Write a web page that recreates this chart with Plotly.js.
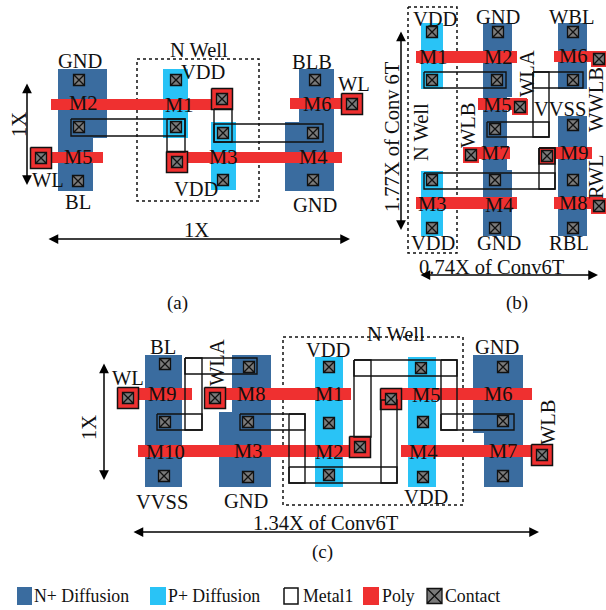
<!DOCTYPE html>
<html><head><meta charset="utf-8">
<script src="https://cdn.plot.ly/plotly-3.0.1.min.js"></script>
<style>html,body{margin:0;padding:0;background:#fff}#c{width:606px;height:610px}</style>
</head><body><div id="c"></div>
<script>
// All rects are [x0, y0, x1, y1] in picture units
const nDiffusion = [
 [58,69,107,138],[58,138,93,191],[299,69,334,122],[285,122,334,191],
 [483,23,512,97],[483,97,507,170],[483,170,512,236],[558,23,587,89],[558,116,587,236],
 [145,355,182,487],[232,355,271,412],[219,412,271,487],[473,355,523,433],[484,433,523,487]
];
const pDiffusion = [
 [163,69,188,138],[211,122,236,190],
 [421,23,443,89],[421,171,443,236],
 [315,357,343,487],[408,357,436,487]
];
const polyBars = [
 [51,99,213,110],[168,152,342,163],[40,152,103,163],[290,98,350,109],
 [416,51,517,63],[554,51,603,62],[478,98,527,110],[463,147,510,159],[540,147,592,159],[416,197,517,209],[554,197,603,209],
 [128,388,192,400],[215,388,351,400],[138,445,360,457],[390,388,532,400],[401,445,542,457]
];
const polyPadsBordered = [[222,99],[177,162],[41,158],[352,104],[128,398],[215,398],[360,447],[391,399],[542,455]];
const polyPadsSmallBordered = [[547,156]];
const polyPadsPlain = [[599,59],[520,107],[471,155],[599,206]];
const metal1 = [
 [71,119,185,136],[167,119,185,152],[214,109,232,142],[214,124,323,142],
 [424,72,506,88],[533,72,583,88],[533,72,549,137],[487,122,549,137],[424,173,555,189],[539,148,555,189],
 [185,358,257,374],[185,358,202,430],[157,414,202,430],[240,414,305,430],[289,414,305,483],[289,467,397,483],
 [381,400,397,483],[354,360,371,437],[354,360,457,376],[441,360,457,430],[441,414,514,430]
];
const nWells = [[137,59,259,201],[408,7,457,253],[283,337,463,505]];
const contacts = [
 [79,80],[79,127],[78,181],[176,80],[176,127],[222,99],[223,133],[177,162],[223,180],[315,80],[313,133],[313,180],[41,158],[352,104],
 [432,32],[498,32],[573,32],[599,59],[432,80],[497,80],[573,80],[520,107],[495,129],[573,125],[471,155],[547,156],[432,180],[495,180],[573,180],[599,206],[432,228],[495,228],[573,228],
 [165,364],[249,367],[128,398],[215,398],[165,422],[248,422],[164,476],[248,477],[329,367],[329,423],[329,475],[421,368],[423,422],[423,477],[503,367],[503,421],[503,476],[360,447],[391,399],[542,455]
];
// [text, x, y, angle]
const labels = [
 ["GND",80,61,0],["N Well",199,50,0],["VDD",203,72,0],["BLB",312,62,0],["WL",354,84,0],["M2",83,103,0],["M1",179,105,0],["M6",317,104,0],
 ["M5",78,157,0],["M3",223,157,0],["M4",313,157,0],["WL",48,180,0],["BL",78,202,0],["VDD",196,189,0],["GND",315,205,0],["1X",196,230,0],["1X",19,125,-90],
 ["VDD",435,19,0],["GND",498,17,0],["WBL",572,17,0],["M1",433,57,0],["M2",498,57,0],["M6",573,56,0],["WLA",527,74,-90],["M5",497,105,0],["VVSS",560,109,0],
 ["WWLB",596,100,-90],["RWL",596,177,-90],["WLB",468,125,-90],["N Well",421,132,-90],["1.77X of Conv 6T",392,137,-90],["M7",495,153,0],["M9",574,153,0],
 ["M3",432,204,0],["M4",499,205,0],["M8",573,203,0],["VDD",433,243,0],["GND",499,243,0],["RBL",569,243,0],["0.74X of Conv6T",492,267,0],
 ["BL",163,347,0],["WLA",217,363,-90],["VDD",328,350,0],["N Well",396,334,0],["GND",497,347,0],["WL",128,378,0],["M9",162,394,0],["M8",251,394,0],["M1",329,394,0],
 ["M5",426,395,0],["M6",498,394,0],["WLB",548,422,-90],["M10",165,452,0],["M3",248,451,0],["M2",329,452,0],["M4",423,452,0],["M7",503,451,0],
 ["VVSS",162,502,0],["GND",246,501,0],["VDD",426,497,0],["1.34X of Conv6T",326,523,0],["1X",89,428,-90]
];
const panelNames = [["(a)",177,303],["(b)",517,303],["(c)",322,552]];
// [x0, y0, x1, y1]
const arrows = [[27,82,27,185],[47,239,350,239],[401,30,401,230],[419,275,598,275],[104,362,104,480],[132,532,539,532]];
// Legend
const legendNames = ["N+ Diffusion","P+ Diffusion","Metal1","Poly","Contact"];
const legendTextX = [33,167,302,381,444];
const legendSwatchN = [[17,587,32,605]];
const legendSwatchP = [[150,587,166,605]];
const legendSwatchM = [[284,588,298,604]];
const legendSwatchPoly = [[363,587,379,605]];
const legendContact = [[434.5,596]];

const BLUE="#3a6c9f", CYAN="#29c3f6", RED="#ef3030", BLACK="#111";
const PAD=10.5, PAD2=8;
const serif="Liberation Serif, serif";
const FONT={family:serif,size:20.5,color:"#111"};
const FONT2={family:serif,size:19,color:"#111"};
const FONT3={family:serif,size:17.8,color:"#111"};

function path(rects){
  const x=[],y=[];
  rects.forEach(r=>{x.push(r[0],r[2],r[2],r[0],r[0],null);y.push(r[1],r[1],r[3],r[3],r[1],null);});
  return {x,y};
}
function padRects(c,h){return c.map(p=>[p[0]-h,p[1]-h,p[0]+h,p[1]+h]);}
function fillTrace(rects,color,name){
  return Object.assign(path(rects),{type:"scatter",mode:"lines",name,fill:"toself",fillcolor:color,line:{width:0,color},hoverinfo:"skip",connectgaps:false});
}
function outline(rects,width,dash,name,fill){
  return Object.assign(path(rects),{type:"scatter",mode:"lines",name,line:{width,color:BLACK,dash:dash||"solid"},hoverinfo:"skip",
    fill:fill?"toself":"none",fillcolor:fill||"rgba(0,0,0,0)"});
}
function contactTrace(pts,name,size){
  return {type:"scatter",mode:"markers",name,x:pts.map(p=>p[0]),y:pts.map(p=>p[1]),hoverinfo:"skip",
    marker:{symbol:"square-x",size,color:"#7a7a7a",line:{color:"#111",width:1.3}}};
}
const traces=[
  fillTrace(nDiffusion,BLUE,"N+ Diffusion"),
  fillTrace(pDiffusion,CYAN,"P+ Diffusion"),
  outline(nWells,1.5,"dot","N Well"),
  fillTrace(polyBars,RED,"Poly"),
  fillTrace(padRects(polyPadsPlain,PAD2),RED,"Poly pads"),
  outline(padRects(polyPadsBordered,PAD),1.5,"solid","Poly pads bordered",RED),
  outline(padRects(polyPadsSmallBordered,PAD2),1.5,"solid","Poly pads small bordered",RED),
  outline(metal1,1.4,"solid","Metal1"),
  contactTrace(contacts,"Contact",11),
  fillTrace(legendSwatchN,BLUE,"legend N"),
  fillTrace(legendSwatchP,CYAN,"legend P"),
  outline(legendSwatchM,1.5,"solid","legend M"),
  fillTrace(legendSwatchPoly,RED,"legend Poly"),
  contactTrace(legendContact,"legend Contact",15)
];
const annotations=[];
labels.forEach(l=>annotations.push({x:l[1],y:l[2],xref:"x",yref:"y",text:l[0],textangle:l[3],showarrow:false,font:FONT,xanchor:"center",yanchor:"middle",borderpad:0}));
panelNames.forEach(l=>annotations.push({x:l[1],y:l[2],xref:"x",yref:"y",text:l[0],showarrow:false,font:FONT2,xanchor:"center",yanchor:"middle",borderpad:0}));
legendNames.forEach((n,i)=>annotations.push({x:legendTextX[i],y:596,xref:"x",yref:"y",text:n,showarrow:false,font:FONT3,xanchor:"left",yanchor:"middle",borderpad:0}));
arrows.forEach(a=>annotations.push({x:a[2],y:a[3],ax:a[0],ay:a[1],xref:"x",yref:"y",axref:"x",ayref:"y",text:"",showarrow:true,arrowhead:2,arrowside:"end+start",arrowsize:1.3,arrowwidth:1.5,arrowcolor:"#000",standoff:0,startstandoff:0}));

Plotly.newPlot("c",traces,{
  width:606,height:610,margin:{l:0,r:0,t:0,b:0},showlegend:false,
  paper_bgcolor:"#fff",plot_bgcolor:"#fff",
  xaxis:{range:[0,606],visible:false,fixedrange:true},
  yaxis:{range:[610,0],visible:false,fixedrange:true},
  annotations
},{displayModeBar:false,staticPlot:true});
</script></body></html>
